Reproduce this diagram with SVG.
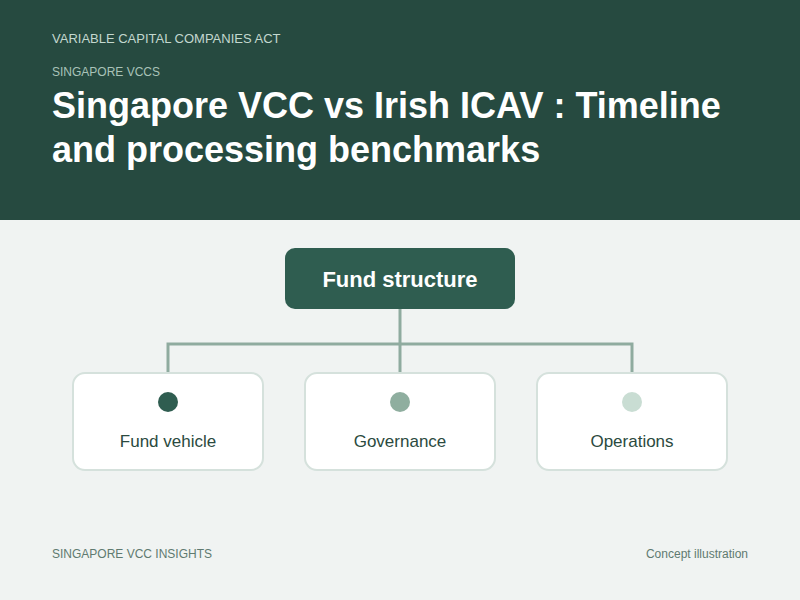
<svg xmlns="http://www.w3.org/2000/svg" width="800" height="600" viewBox="0 0 800 600">
<style>
text{font-family:"Liberation Sans",Arial,sans-serif}
.kick{fill:#c3d8cf;font-size:13px}
.kick2{fill:#a9c3b8;font-size:12px}
.title{fill:#ffffff;font-size:36px;font-weight:bold}
.root{fill:#2f5d50}
.rootlbl{fill:#ffffff;font-size:22px;font-weight:bold;text-anchor:middle}
.card{fill:#ffffff;stroke:#d5e1dc;stroke-width:2}
.lbl{fill:#2b4a40;font-size:17px;text-anchor:middle}
.conn{fill:none;stroke:#8fab9f;stroke-width:3}
.foot{fill:#5f7a70;font-size:12px}
</style>
<rect width="800" height="600" fill="#f0f3f2"/>
<rect width="800" height="220" fill="#264a40"/>
<text class="kick" x="52" y="43">VARIABLE CAPITAL COMPANIES ACT</text>
<text class="kick2" x="52" y="76">SINGAPORE VCCS</text>
<text class="title" x="52" y="118">Singapore VCC vs Irish ICAV : Timeline</text>
<text class="title" x="52" y="162">and processing benchmarks</text>
<g id="connectors">
<path class="conn" d="M400 309V344M168 373V344H632V373M400 344V373"/>
</g>
<g id="root">
<rect class="root" x="285" y="248" width="230" height="61" rx="10"/>
<text class="rootlbl" x="400" y="287">Fund structure</text>
</g>
<g id="fund-vehicle">
<rect class="card" x="73" y="373" width="190" height="97" rx="12"/>
<circle cx="168" cy="402" r="10" fill="#2f5d50"/>
<text class="lbl" x="168" y="447">Fund vehicle</text>
</g>
<g id="governance">
<rect class="card" x="305" y="373" width="190" height="97" rx="12"/>
<circle cx="400" cy="402" r="10" fill="#8fae9f"/>
<text class="lbl" x="400" y="447">Governance</text>
</g>
<g id="operations">
<rect class="card" x="537" y="373" width="190" height="97" rx="12"/>
<circle cx="632" cy="402" r="10" fill="#c9ddd3"/>
<text class="lbl" x="632" y="447">Operations</text>
</g>
<text class="foot" x="52" y="558">SINGAPORE VCC INSIGHTS</text>
<text class="foot" x="748" y="558" text-anchor="end">Concept illustration</text>
</svg>
